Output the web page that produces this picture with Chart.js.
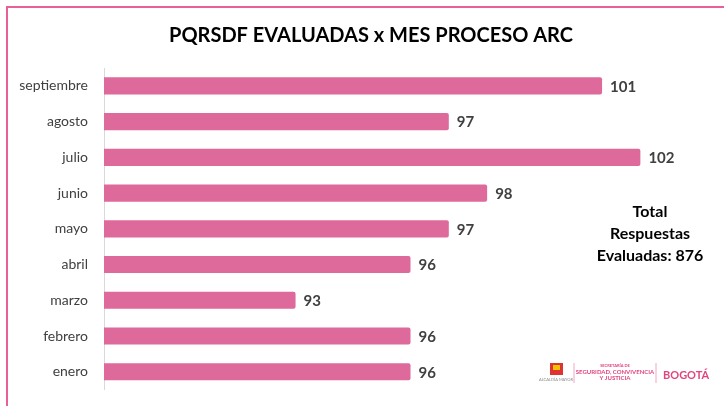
<!DOCTYPE html>
<html>
<head>
<meta charset="utf-8">
<script src="https://cdn.jsdelivr.net/npm/chart.js@4"></script>
<style>
  html, body { margin: 0; padding: 0; background: #fff; }
  #wrap { width: 724px; height: 406px; position: relative; }
</style>
</head>
<body>
<div id="wrap"><canvas id="arcChart"></canvas></div>
<script>
// PQRSDF evaluadas por mes — proceso ARC

const MESES   = ['septiembre', 'agosto', 'julio', 'junio', 'mayo', 'abril', 'marzo', 'febrero', 'enero'];
const VALORES = [101, 97, 102, 98, 97, 96, 93, 96, 96];
const TITULO  = 'PQRSDF EVALUADAS x MES PROCESO ARC';
const TOTAL_TXT = ['Total', 'Respuestas', 'Evaluadas: 876'];

const FONT = 'Lato, "Open Sans", sans-serif';
const ROSA = '#de6a9b';
const TXT  = '#404040';

// ── marco, título, etiquetas, total y logo
const decoPlugin = {
  id: 'deco',
  beforeDraw(chart) {
    const ctx = chart.ctx;
    ctx.save();
    ctx.strokeStyle = '#e8609a';
    ctx.lineWidth = 2;
    ctx.beginPath();
    ctx.moveTo(7, 406);
    ctx.lineTo(7, 7);
    ctx.lineTo(724, 7);
    ctx.stroke();
    ctx.restore();
  },
  afterDatasetsDraw(chart) {
    const ctx = chart.ctx;
    ctx.save();

    // título
    ctx.fillStyle = '#000';
    ctx.font = 'bold 20px ' + FONT;
    ctx.textAlign = 'center';
    ctx.textBaseline = 'middle';
    ctx.fillText(TITULO, 371, 36);

    // valores al final de cada barra
    ctx.fillStyle = TXT;
    ctx.font = 'bold 15px ' + FONT;
    ctx.textAlign = 'left';
    chart.getDatasetMeta(0).data.forEach((bar, i) => {
      ctx.fillText(VALORES[i], bar.x + 8, bar.y + 1);
    });

    // total
    ctx.fillStyle = '#000';
    ctx.font = 'bold 16px ' + FONT;
    ctx.textAlign = 'center';
    TOTAL_TXT.forEach((t, i) => ctx.fillText(t, 650, 212 + i * 22));

    // logo
    ctx.fillStyle = '#d33';
    ctx.fillRect(550, 363, 13, 12);
    ctx.fillStyle = '#f2c200';
    ctx.fillRect(553, 365, 7, 5);
    ctx.fillStyle = '#888';
    ctx.font = '4px ' + FONT;
    ctx.fillText('ALCALDÍA MAYOR', 556, 380);
    ctx.strokeStyle = '#f3a6c4';
    ctx.lineWidth = 1;
    ctx.beginPath();
    ctx.moveTo(574, 363); ctx.lineTo(574, 383);
    ctx.moveTo(656, 363); ctx.lineTo(656, 383);
    ctx.stroke();
    ctx.fillStyle = '#e0457f';
    ctx.font = 'bold 4px ' + FONT;
    ctx.fillText('SECRETARÍA DE', 615, 366);
    ctx.font = 'bold 6px ' + FONT;
    ctx.fillText('SEGURIDAD, CONVIVENCIA', 615, 372);
    ctx.fillText('Y JUSTICIA', 615, 378);
    ctx.font = 'bold 11px ' + FONT;
    ctx.textAlign = 'left';
    ctx.fillText('BOGOTÁ', 663, 375);
    ctx.restore();
  }
};

new Chart(document.getElementById('arcChart'), {
  type: 'bar',
  data: {
    labels  : MESES,
    datasets: [{
      data              : VALORES,
      backgroundColor   : ROSA,
      borderWidth       : 0,
      borderRadius      : 2,
      borderSkipped     : false,
      barPercentage     : 0.48,
      categoryPercentage: 1
    }]
  },
  options: {
    indexAxis          : 'y',
    responsive         : true,
    maintainAspectRatio: false,
    animation          : false,
    layout: { padding: { left: 8, right: 7, top: 68, bottom: 16 } },
    plugins: {
      legend : { display: false },
      tooltip: { enabled: false }
    },
    scales: {
      x: {
        display: false,
        min    : 88,
        max    : 104
      },
      y: {
        afterFit(scale) { scale.width = 96; },
        grid  : { display: false },
        border: { display: true, color: '#d9d9d9', width: 1 },
        ticks : { color: TXT, padding: 8, font: { family: FONT, size: 14 } }
      }
    }
  },
  plugins: [decoPlugin]
});
</script>
</body>
</html>
